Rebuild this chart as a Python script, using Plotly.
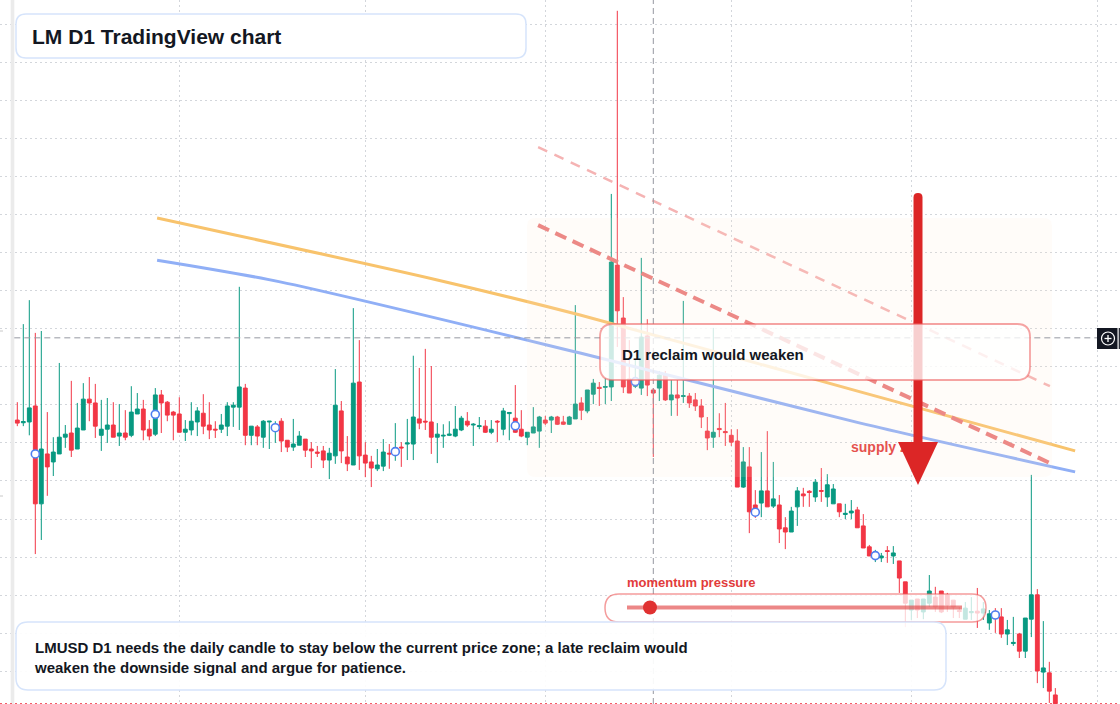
import plotly.graph_objects as go
import pandas as pd

W, H = 1120, 704
FONT = "Liberation Sans, Arial, sans-serif"
DARK = "#131722"
UP, DOWN = "#089981", "#f23645"

# ---------------- data (price in units of 0.0001 USD) ----------------
start_date = "2025-07-05"
n_bars = 174
dates = pd.date_range(start_date, periods=n_bars, freq="D")

open_ = [7.60, 7.53, 7.55, 7.97, 5.40, 6.71, 6.50, 6.71, 7.15, 7.26, 6.84, 7.34, 8.15, 8.05, 7.20, 7.36, 7.47, 7.18, 7.26, 7.20,
         7.76, 7.89, 7.36, 7.23, 8.26, 8.07, 7.81, 7.76, 7.28, 7.34, 7.55, 7.78, 7.47, 7.36, 7.36, 7.44, 7.94, 7.94, 8.44, 7.20,
         7.42, 7.15, 7.55, 7.36, 7.57, 7.07, 6.89, 6.94, 7.10, 6.84, 6.76, 6.79, 6.55, 6.66, 7.84, 6.63, 6.42, 8.60, 6.68, 6.50,
         6.32, 6.39, 6.73, 6.73, 6.89, 6.97, 6.97, 7.63, 7.57, 7.55, 7.15, 7.18, 7.20, 7.18, 7.34, 7.57, 7.47, 7.43, 7.44, 7.28,
         7.57, 7.36, 7.77, 7.65, 7.36, 7.15, 7.26, 7.31, 7.60, 7.60, 7.68, 7.55, 7.49, 7.63, 8.05, 7.84, 8.28, 8.46, 8.46, 8.47,
         11.67, 10.28, 8.68, 8.49, 8.44, 9.81, 8.39, 8.44, 8.78, 8.13, 8.26, 8.22, 8.23, 8.13, 7.97, 7.31, 7.15, 7.38, 7.30, 7.20,
         7.05, 5.84, 6.37, 5.37, 5.42, 5.74, 5.34, 5.37, 4.77, 4.66, 5.32, 5.66, 5.73, 5.58, 5.75, 5.58, 5.40, 5.40, 5.12, 5.16,
         5.24, 4.82, 4.27, 3.98, 3.98, 4.17, 4.03, 3.90, 3.35, 2.61, 2.90, 2.56, 2.79, 2.95, 3.11, 3.01, 2.87, 2.60, 2.37, 2.54,
         2.58, 2.53, 2.27, 2.56, 2.43, 1.98, 1.73, 1.98, 1.53, 2.37, 3.01, 0.98, 0.96, 0.38]
high = [8.07, 10.12, 10.75, 9.89, 9.94, 7.81, 7.15, 9.10, 7.47, 8.63, 8.05, 8.57, 8.73, 8.55, 8.13, 8.18, 8.07, 8.02, 7.86, 8.49,
        8.31, 8.13, 7.60, 8.44, 8.39, 8.10, 7.84, 8.20, 7.60, 8.07, 7.94, 8.28, 8.07, 7.57, 7.76, 8.07, 8.07, 11.10, 8.55, 7.44,
        7.47, 7.60, 7.57, 7.57, 7.65, 7.07, 7.63, 7.31, 7.10, 7.02, 6.92, 6.92, 6.87, 8.94, 8.10, 7.18, 10.54, 9.70, 7.02, 6.66,
        6.84, 7.10, 6.97, 7.52, 7.02, 7.63, 9.29, 8.97, 9.47, 9.02, 7.52, 7.49, 7.57, 7.97, 7.71, 7.81, 7.52, 7.68, 7.60, 7.60,
        7.60, 7.92, 7.81, 8.52, 7.86, 7.28, 7.94, 7.71, 7.71, 7.71, 7.71, 7.71, 7.71, 10.62, 8.20, 8.39, 8.68, 8.60, 8.70, 13.54,
        18.35, 10.83, 9.70, 9.18, 11.86, 10.25, 8.44, 8.89, 8.89, 8.65, 8.65, 10.73, 8.31, 8.31, 8.15, 7.68, 10.02, 7.78, 8.05, 7.36,
        7.36, 6.89, 6.89, 5.76, 6.76, 7.31, 6.50, 5.63, 5.05, 5.32, 5.84, 5.82, 5.76, 6.05, 6.34, 6.18, 5.92, 5.40, 5.40, 5.50,
        5.32, 5.13, 4.32, 4.19, 4.11, 4.29, 4.29, 3.90, 3.35, 2.87, 2.90, 2.90, 3.53, 3.22, 3.11, 3.06, 2.87, 2.69, 2.82, 2.95,
        3.19, 2.82, 2.61, 2.66, 2.66, 2.35, 2.43, 2.01, 2.40, 6.16, 3.16, 2.32, 1.25, 0.56]
low = [7.44, 7.44, 7.20, 4.08, 4.45, 5.61, 6.13, 6.71, 6.87, 6.63, 6.84, 7.34, 7.57, 7.13, 6.79, 7.00, 7.15, 6.92, 7.07, 7.15,
       7.76, 7.07, 7.07, 7.18, 7.26, 7.57, 7.07, 7.28, 7.05, 7.20, 7.18, 7.23, 7.10, 7.13, 7.26, 7.18, 7.42, 7.34, 6.94, 6.94,
       6.94, 6.87, 6.84, 7.00, 6.76, 6.76, 6.79, 6.94, 6.63, 6.34, 6.63, 6.34, 6.05, 6.45, 6.47, 6.26, 6.42, 6.29, 6.10, 5.84,
       6.26, 6.26, 6.32, 6.53, 6.37, 6.55, 6.55, 7.36, 7.34, 6.71, 6.47, 6.87, 7.18, 7.15, 7.31, 7.42, 6.92, 7.36, 7.26, 7.23,
       7.02, 7.20, 7.07, 7.26, 7.15, 6.94, 7.26, 6.87, 7.47, 7.26, 7.47, 7.47, 7.47, 7.63, 7.60, 7.78, 8.02, 7.97, 8.02, 8.10,
       9.52, 8.31, 8.31, 8.44, 8.26, 8.23, 6.63, 8.10, 8.10, 7.71, 7.71, 8.05, 7.92, 7.84, 7.39, 6.81, 6.87, 7.15, 6.92, 6.92,
       5.84, 5.82, 4.63, 5.03, 5.05, 5.32, 5.29, 4.37, 4.21, 4.66, 4.82, 5.32, 5.32, 5.45, 5.45, 5.32, 5.40, 5.05, 5.00, 5.00,
       4.77, 4.24, 4.03, 3.87, 3.87, 3.85, 3.82, 3.06, 2.16, 2.35, 2.40, 2.37, 2.69, 2.56, 2.53, 2.56, 2.40, 2.40, 2.37, 2.35,
       2.14, 2.35, 2.09, 2.01, 1.88, 1.69, 1.67, 1.35, 1.35, 1.90, 0.69, 0.56, 0.17, 0.02]
close = [7.52, 7.56, 7.92, 5.40, 6.84, 6.37, 6.76, 7.15, 7.23, 6.81, 7.39, 8.15, 8.05, 7.44, 7.36, 7.47, 7.15, 7.26, 7.15, 7.81,
         7.89, 7.34, 7.18, 8.26, 8.05, 7.73, 7.73, 7.28, 7.36, 7.57, 7.84, 7.44, 7.34, 7.34, 7.47, 7.97, 7.99, 8.47, 7.20, 7.44,
         7.18, 7.57, 7.57, 7.44, 7.05, 6.89, 6.97, 7.18, 6.81, 6.79, 6.73, 6.55, 6.73, 7.99, 6.79, 6.45, 8.57, 6.66, 6.47, 6.34,
         6.42, 6.76, 6.71, 6.87, 6.87, 7.00, 7.68, 7.52, 7.55, 7.15, 7.23, 7.20, 7.23, 7.36, 7.65, 7.47, 7.49, 7.45, 7.28, 7.36,
         7.55, 7.84, 7.80, 7.28, 7.18, 7.28, 7.42, 7.68, 7.52, 7.68, 7.49, 7.49, 7.68, 8.02, 7.86, 8.39, 8.57, 8.43, 8.48, 11.75,
         10.47, 8.47, 8.31, 8.65, 9.78, 8.52, 8.31, 8.78, 8.13, 8.26, 8.18, 8.24, 8.05, 7.97, 7.68, 7.13, 7.28, 7.35, 7.27, 7.02,
         5.84, 6.50, 5.19, 5.24, 5.74, 5.32, 5.53, 4.74, 4.66, 5.21, 5.74, 5.61, 5.70, 5.97, 5.73, 5.90, 5.79, 5.19, 5.15, 5.21,
         4.77, 4.24, 4.03, 4.08, 4.03, 4.15, 4.11, 3.45, 2.79, 2.87, 2.61, 2.90, 3.11, 2.69, 2.56, 2.74, 2.69, 2.57, 2.66, 2.57,
         2.53, 2.64, 2.51, 2.40, 1.98, 2.09, 1.76, 1.53, 2.40, 3.01, 1.01, 1.09, 0.48, 0.15]

# signal markers (bar index, price)
marker_bars = [3, 23, 43, 63, 83, 103, 123, 143, 163]
marker_price = [6.71, 7.75, 7.40, 6.77, 7.45, 8.61, 5.18, 4.04, 2.48]

# slow / fast averages (bar offset, price)
orange_bars = [23.3, 70.0, 93.8, 140.5, 176.3]
orange_price = [12.91, 11.28, 10.36, 8.34, 6.79]
blue_bars = [23.3, 43.8, 93.8, 140.5, 176.3]
blue_price = [11.80, 11.23, 9.36, 7.52, 6.24]

# descending resistance lines (bar offset, price)
res_main_bars = [86.8, 172.8]
res_main_price = [12.72, 6.42]
res_outer_bars = [86.8, 172.1]
res_outer_price = [14.77, 8.49]

crosshair_bar = 106
crosshair_price = 9.76
label_bar, label_price = 138.95, 6.86

title_text = "LM D1 TradingView chart"
note_lines = ["LMUSD D1 needs the daily candle to stay below the current price zone; a late reclaim would",
              "weaken the downside signal and argue for patience."]
box_text = "D1 reclaim would weaken"
zone_text = "supply zone"
momentum_text = "momentum pressure"


def bar_date(offsets):
    return [dates[0] + pd.Timedelta(days=float(o)) for o in offsets]


# ---------------- helpers for overlay geometry (pixel -> paper) ----------------
def px(x):
    return x / W


def py(y):
    return 1 - y / H


def rr(x0, y0, x1, y1, r):
    pts = [
        ("M", x0 + r, y0), ("L", x1 - r, y0), ("Q", x1, y0, x1, y0 + r),
        ("L", x1, y1 - r), ("Q", x1, y1, x1 - r, y1), ("L", x0 + r, y1),
        ("Q", x0, y1, x0, y1 - r), ("L", x0, y0 + r), ("Q", x0, y0, x0 + r, y0),
    ]
    s = ""
    for p in pts:
        cmd, coords = p[0], p[1:]
        pairs = []
        for i in range(0, len(coords), 2):
            pairs.append(f"{px(coords[i]):.5f},{py(coords[i + 1]):.5f}")
        s += cmd + " " + " ".join(pairs) + " "
    return s + "Z"


def poly(points):
    s = "M " + " L ".join(f"{px(x):.5f},{py(y):.5f}" for x, y in points)
    return s + " Z"


fig = go.Figure()

fig.add_trace(go.Candlestick(
    x=dates, open=open_, high=high, low=low, close=close,
    increasing=dict(line=dict(color=UP, width=1), fillcolor=UP),
    decreasing=dict(line=dict(color=DOWN, width=1), fillcolor=DOWN),
    whiskerwidth=0, hoverinfo="skip", showlegend=False,
))

fig.add_trace(go.Scatter(x=bar_date(orange_bars), y=orange_price, mode="lines",
                         line=dict(color="#f8c36c", width=3, shape="spline", smoothing=0.8),
                         hoverinfo="skip", showlegend=False))
fig.add_trace(go.Scatter(x=bar_date(blue_bars), y=blue_price, mode="lines",
                         line=dict(color="#90aff6", width=3, shape="spline", smoothing=0.8),
                         hoverinfo="skip", showlegend=False))
fig.add_trace(go.Scatter(x=bar_date(res_outer_bars), y=res_outer_price, mode="lines",
                         line=dict(color="#f5b3b3", width=2.5, dash="10px,8px"),
                         hoverinfo="skip", showlegend=False))
fig.add_trace(go.Scatter(x=bar_date(res_main_bars), y=res_main_price, mode="lines",
                         line=dict(color="#ea7b7b", width=4, dash="12px,7px"),
                         hoverinfo="skip", showlegend=False))
fig.add_trace(go.Scatter(x=[dates[i] for i in marker_bars], y=marker_price, mode="markers",
                         marker=dict(symbol="circle", size=8, color="white",
                                     line=dict(color="#4f7ff0", width=1.6)),
                         hoverinfo="skip", showlegend=False))
fig.add_trace(go.Scatter(x=bar_date([label_bar]), y=[label_price], mode="text",
                         text=[zone_text], textposition="middle right",
                         textfont=dict(family=FONT, size=14, color="#e23b3b", weight="bold"),
                         hoverinfo="skip", showlegend=False))

shapes = []
# left pane edge
shapes.append(dict(type="rect", xref="paper", yref="paper", x0=px(10.7), x1=px(14.3), y0=0, y1=1,
                   fillcolor="#ebebeb", line=dict(width=0), layer="above"))
for ty in (331, 496):
    shapes.append(dict(type="line", xref="paper", yref="paper", x0=0, x1=px(3), y0=py(ty), y1=py(ty),
                       line=dict(color="#c8c8c8", width=1), layer="above"))
# supply zone
shapes.append(dict(type="path", xref="paper", yref="paper", path=rr(527, 218, 1052, 477, 8),
                   fillcolor="rgba(252,228,208,0.13)", line=dict(width=0), layer="above"))
# last price line
shapes.append(dict(type="line", xref="paper", yref="y", x0=0, x1=1, y0=close[-1], y1=close[-1],
                   line=dict(color=DOWN, width=1, dash="2px,3px"), layer="above"))
# crosshair
shapes.append(dict(type="line", xref="x", yref="paper", x0=dates[crosshair_bar], x1=dates[crosshair_bar],
                   y0=0, y1=1, line=dict(color="#9598a1", width=1, dash="6px,4px"), layer="above"))
shapes.append(dict(type="line", xref="paper", yref="y", x0=px(14.3), x1=px(1097),
                   y0=crosshair_price, y1=crosshair_price,
                   line=dict(color="#9598a1", width=1, dash="6px,4px"), layer="above"))
# big arrow
shapes.append(dict(type="path", xref="paper", yref="paper",
                   path=rr(913.5, 193, 922.5, 452, 4.4), fillcolor="#dc2626", line=dict(width=0), layer="above"))
shapes.append(dict(type="path", xref="paper", yref="paper",
                   path=poly([(898, 442), (938, 442), (918, 485)]),
                   fillcolor="#dc2626", line=dict(width=0), layer="above"))
# reclaim box
shapes.append(dict(type="path", xref="paper", yref="paper", path=rr(600, 324, 1030, 380, 13),
                   fillcolor="rgba(255,255,255,0.78)", line=dict(color="rgba(236,90,90,0.55)", width=1.8),
                   layer="above"))
# momentum capsule
shapes.append(dict(type="path", xref="paper", yref="paper", path=rr(605, 594, 986, 622, 14),
                   fillcolor="rgba(255,255,255,0.76)", line=dict(color="rgba(236,90,90,0.6)", width=1.5),
                   layer="above"))
shapes.append(dict(type="line", xref="paper", yref="paper", x0=px(627), x1=px(962), y0=py(607.5), y1=py(607.5),
                   line=dict(color="rgba(226,70,70,0.65)", width=4), layer="above"))
shapes.append(dict(type="circle", xref="paper", yref="paper", x0=px(643), x1=px(657), y0=py(600.5), y1=py(614.5),
                   fillcolor="#e03131", line=dict(width=0), layer="above"))
# title box and note box
shapes.append(dict(type="path", xref="paper", yref="paper", path=rr(16, 14, 526, 58, 10),
                   fillcolor="white", line=dict(color="#d6e4fb", width=1.5), layer="above"))
shapes.append(dict(type="path", xref="paper", yref="paper", path=rr(16, 622, 946, 690, 12),
                   fillcolor="rgba(255,255,255,0.92)", line=dict(color="#d6e4fb", width=1.5), layer="above"))
# crosshair price label with plus icon
shapes.append(dict(type="rect", xref="paper", yref="paper", x0=px(1097), x1=px(1117.5), y0=py(349), y1=py(328),
                   fillcolor="#131722", line=dict(width=0), layer="above"))
shapes.append(dict(type="line", xref="paper", yref="paper", x0=px(1119.3), x1=px(1119.3), y0=py(349), y1=py(328),
                   line=dict(color="#131722", width=1.2), layer="above"))
shapes.append(dict(type="circle", xref="paper", yref="paper", x0=px(1101.5), x1=px(1114.5), y0=py(345), y1=py(332),
                   line=dict(color="white", width=1.2), layer="above"))
shapes.append(dict(type="line", xref="paper", yref="paper", x0=px(1104.5), x1=px(1111.5), y0=py(338.5), y1=py(338.5),
                   line=dict(color="white", width=1.3), layer="above"))
shapes.append(dict(type="line", xref="paper", yref="paper", x0=px(1108), x1=px(1108), y0=py(335), y1=py(342),
                   line=dict(color="white", width=1.3), layer="above"))

annotations = [
    dict(xref="paper", yref="paper", x=px(30), y=py(36), xanchor="left", yanchor="middle",
         text=f"<b>{title_text}</b>", showarrow=False, font=dict(family=FONT, size=21, color=DARK)),
    dict(xref="paper", yref="paper", x=px(32), y=py(657), xanchor="left", yanchor="middle", align="left",
         text="<b>" + "<br>".join(note_lines) + "</b>", showarrow=False,
         font=dict(family=FONT, size=15, color=DARK)),
    dict(xref="paper", yref="paper", x=px(620), y=py(354), xanchor="left", yanchor="middle",
         text=f"<b>{box_text}</b>", showarrow=False, font=dict(family=FONT, size=15, color=DARK)),
    dict(xref="paper", yref="paper", x=px(625), y=py(582), xanchor="left", yanchor="middle",
         text=f"<b>{momentum_text}</b>", showarrow=False, font=dict(family=FONT, size=13, color="#e23b3b")),
]

x_lo = dates[0] - pd.Timedelta(days=2.883)
x_hi = dates[0] + pd.Timedelta(days=183.78)

fig.update_layout(
    width=W, height=H, margin=dict(l=0, r=0, t=0, b=0),
    paper_bgcolor="white", plot_bgcolor="white",
    showlegend=False, boxgap=0.2, boxgroupgap=0.2,
    shapes=shapes, annotations=annotations,
    xaxis=dict(type="date", range=[x_lo, x_hi], showgrid=True, gridcolor="#d3d6db", griddash="2px,3px",
               gridwidth=1, dtick="M1", tick0="2025-08-01", showticklabels=False, ticks="",
               zeroline=False, showline=False, rangeslider=dict(visible=False), fixedrange=True),
    yaxis=dict(range=[0.142, 18.634], showgrid=True, gridcolor="#d3d6db", griddash="2px,3px", gridwidth=1,
               dtick=1, tick0=0, showticklabels=False, ticks="", zeroline=False, showline=False,
               fixedrange=True),
)

fig.write_html("out.html", config={"displayModeBar": False})
